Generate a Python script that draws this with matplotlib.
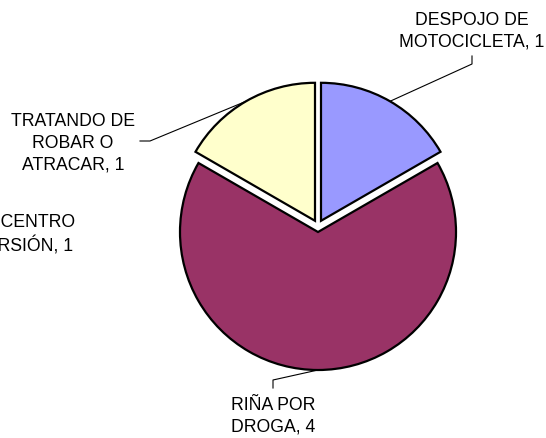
import numpy as np
import matplotlib.pyplot as plt

# datos del grafico
categorias = ["DESPOJO DE\nMOTOCICLETA", "RIÑA POR\nDROGA", "TRATANDO DE\nROBAR O\nATRACAR"]
valores = [1, 4, 1]
colores = ["#9999FF", "#993366", "#FFFFCC"]
# etiqueta sin sector visible (cortada en el borde izquierdo)
otra_cat = "RIÑA EN CENTRO\nDE DIVERSIÓN"
otro_val = 1

W, H = 546, 439
fig = plt.figure(figsize=(W / 100, H / 100), dpi=100)
ax = fig.add_axes([0, 0, 1, 1])

cx, cy, R = 318, H - 227, 138
# en matplotlib el explode va en unidades de datos (pixeles aqui)
wedges, _ = ax.pie(valores, colors=colores, startangle=90, counterclock=False,
                   explode=[6] * len(valores), center=(cx, cy), radius=R,
                   wedgeprops=dict(edgecolor="black", linewidth=1.6), frame=True)
ax.set_xlim(0, W)
ax.set_ylim(0, H)
ax.set_aspect("equal")
ax.axis("off")

fs = 12.7
font = "Liberation Sans"
ls = 1.35

# posiciones de etiquetas (pixeles, y hacia abajo) y codos de las lineas guia
pos_lab = [(472, 31), (273.5, 416), (73, 143)]
codos = [[(472, 65), (472, 57)], [(273, 381), (273, 389)], [(150, 142), (140, 142)]]

for w, cat, val, (tx, ty), codo in zip(wedges, categorias, valores, pos_lab, codos):
    ang = np.deg2rad((w.theta1 + w.theta2) / 2)
    ex, ey = w.center
    px = ex + w.r * np.cos(ang)
    py = ey + w.r * np.sin(ang)
    xs = [px] + [c[0] for c in codo]
    ys = [py] + [H - c[1] for c in codo]
    ax.plot(xs, ys, color="black", lw=0.8)
    ax.text(tx, H - ty, f"{cat}, {val}", ha="center", va="center", fontsize=fs,
            family=font, linespacing=ls, color="black")

ax.text(0, H - 235, f"{otra_cat}, {otro_val}", ha="center", va="center", fontsize=fs,
        family=font, linespacing=ls, color="black")

fig.savefig("out.png", dpi=100)
